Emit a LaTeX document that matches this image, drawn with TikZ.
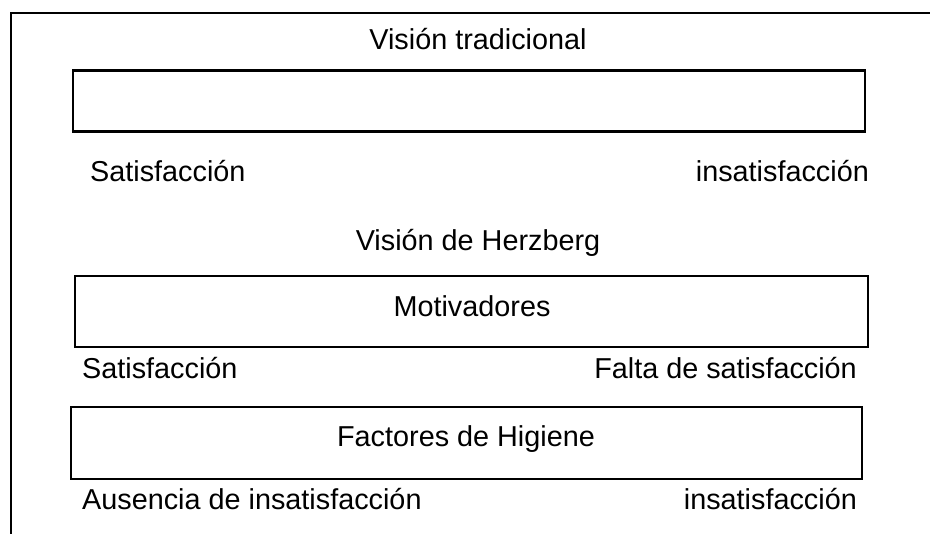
\documentclass[tikz,border=0pt]{standalone}
\usepackage{fontspec}
\setmainfont{Liberation Sans}
\begin{document}
\begin{tikzpicture}[x=1pt,y=-1pt,
  lbl/.style={inner sep=0pt,font=\fontsize{28.8}{34}\selectfont},
  bar/.style={draw=black,line width=2.2pt}]
\useasboundingbox (0,0) rectangle (930,534);
\coordinate (ftop) at (930,13);
\coordinate (fcorner) at (11,13);
\coordinate (fbot) at (11,534);
\draw[line width=2.2pt] (ftop) -- (fcorner) -- (fbot);
% boxes
\node[bar,minimum width=792pt,minimum height=61pt,inner sep=0pt] (b1) at (469,101) {};
\node[bar,minimum width=793pt,minimum height=71pt,inner sep=0pt] (b2) at (471.5,311.5) {};
\node[bar,minimum width=791pt,minimum height=72pt,inner sep=0pt] (b3) at (466.5,443) {};
% texts
\node[lbl,anchor=base] (t1) at (478,50) {Visión tradicional};
\node[lbl,anchor=base west] (s1) at (90,182) {Satisfacción};
\node[lbl,anchor=base east] (i1) at (869,182) {insatisfacción};
\node[lbl,anchor=base] (t2) at (478,251) {Visión de Herzberg};
\node[lbl,anchor=base] (m) at (472,317) {Motivadores};
\node[lbl,anchor=base west] (s2) at (82,379) {Satisfacción};
\node[lbl,anchor=base east] (f2) at (857,379) {Falta de satisfacción};
\node[lbl,anchor=base] (h) at (466,447) {Factores de Higiene};
\node[lbl,anchor=base west] (a3) at (82,510) {Ausencia de insatisfacción};
\node[lbl,anchor=base east] (i3) at (857,510) {insatisfacción};
\end{tikzpicture}
\end{document}
